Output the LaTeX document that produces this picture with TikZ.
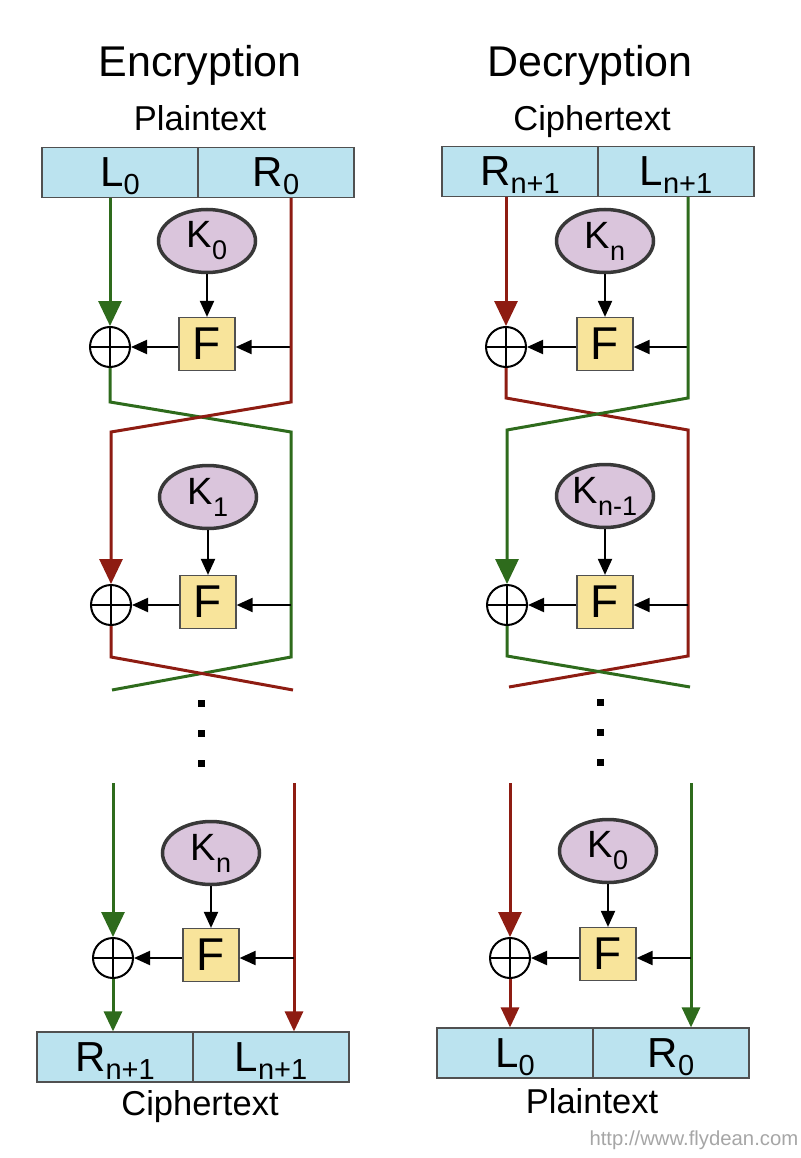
\documentclass[tikz,border=0pt]{standalone}
\usepackage{fontspec}
\setmainfont{Liberation Sans}
\usetikzlibrary{arrows.meta,shapes.geometric}
\definecolor{boxblue}{HTML}{BBE3EF}
\definecolor{keypurple}{HTML}{DAC5DC}
\definecolor{fyellow}{HTML}{F8E49B}
\definecolor{lgreen}{HTML}{2E6B1C}
\definecolor{lred}{HTML}{8E1C12}
\definecolor{edgegray}{HTML}{505050}
\newcommand{\blab}[2]{{\fontsize{42}{42}\selectfont #1\raisebox{-8pt}{\fontsize{29}{29}\selectfont #2}}}
\newcommand{\klab}[1]{{\fontsize{38}{38}\selectfont K\raisebox{-12pt}{\fontsize{27}{27}\selectfont #1}}}
\tikzset{
  halfbox/.style={draw=edgegray, line width=1.2pt, fill=boxblue, minimum width=156pt, minimum height=50pt, inner sep=0pt, text height=28pt, text depth=0pt},
  keynode/.style={ellipse, draw=black!78, line width=3.5pt, fill=keypurple, minimum width=97pt, minimum height=63pt, inner sep=0pt},
  fnode/.style={draw=edgegray, line width=1.2pt, fill=fyellow, minimum width=56pt, minimum height=53pt, inner sep=0pt, font=\fontsize{46}{46}\selectfont},
  xornode/.style={circle, draw, line width=2pt, minimum size=40pt, inner sep=0pt,
    path picture={\draw[line width=2pt] (path picture bounding box.north) -- (path picture bounding box.south)
      (path picture bounding box.west) -- (path picture bounding box.east);}},
  gline/.style={lgreen, line width=3pt},
  rline/.style={lred, line width=3pt},
  bigtip/.style={-{Triangle[width=23pt,length=25pt]}},
  boxtip/.style={-{Triangle[width=18pt,length=20pt]}},
  blk/.style={black, line width=2pt, -{Triangle[width=14pt,length=16pt]}},
  dotsq/.style={fill=black, minimum size=7pt, inner sep=0pt},
  title/.style={anchor=base, font=\fontsize{43}{43}\selectfont},
  sub/.style={anchor=base, font=\fontsize{34.5}{34.5}\selectfont},
}
\begin{document}
\begin{tikzpicture}[x=1pt,y=-1pt]
\useasboundingbox (0,0) rectangle (800,1158);

% ================= Encryption =================
\node[title] (etitle) at (200,77) {Encryption};
\node[sub] (eplain) at (200,131) {Plaintext};
\node[halfbox] (eL0) at (120,172.5) {\blab{L}{0}};
\node[halfbox] (eR0) at (276,172.5) {\blab{R}{0}};

\node[keynode] (kE1) at (207,241) {\klab{0}};
\node[fnode] (fE1) at (207,344) {F};
\node[xornode] (xE1) at (110,347) {};

\coordinate (ec1) at (110,402);
\coordinate (ec2) at (291,432);
\coordinate (ec3) at (291,657);
\coordinate (ec4) at (112,690);
\coordinate (er1) at (291,402);
\coordinate (er2) at (111,432);
\coordinate (er3) at (111,657);
\coordinate (er4) at (293,690);

\node[keynode] (kE2) at (208,497) {\klab{1}};
\node[fnode] (fE2) at (208,602) {F};
\node[xornode] (xE2) at (111,605) {};

% round 1
\draw[gline,bigtip] (xE1 |- eL0.south) -- (xE1.north);
\draw[blk] (kE1.south) -- (fE1.north);
\draw[blk] (er1 |- xE1) -- (fE1.east |- xE1);
\draw[blk] (fE1.west |- xE1) -- (xE1.east);
\draw[gline] (xE1.south) -- (ec1) -- (ec2) -- (ec3) -- (ec4);
\draw[rline,bigtip] (er1 |- eR0.south) -- (er1) -- (er2) -- (xE2.north);
% round 2
\draw[blk] (kE2.south) -- (fE2.north);
\draw[blk] (ec2 |- xE2) -- (fE2.east |- xE2);
\draw[blk] (fE2.west |- xE2) -- (xE2.east);
\draw[rline] (xE2.south) -- (er3) -- (er4);

\node[dotsq] (ed1) at (201,703) {};
\node[dotsq] (ed2) at (201,733) {};
\node[dotsq] (ed3) at (201,763) {};

% round n
\node[keynode] (kE3) at (211,853) {\klab{n}};
\node[fnode] (fE3) at (211,955) {F};
\node[xornode] (xE3) at (113,958) {};
\node[halfbox] (eRn) at (115,1057) {\blab{R}{n+1}};
\node[halfbox] (eLn) at (271,1057) {\blab{L}{n+1}};
\node[sub] (ecipher) at (200,1115) {Ciphertext};
\coordinate (eg5) at (113,783);
\coordinate (er5) at (294,783);
\draw[gline,bigtip] (eg5) -- (xE3.north);
\draw[gline,boxtip] (xE3.south) -- (xE3 |- eRn.north);
\draw[rline,boxtip] (er5) -- (er5 |- eLn.north);
\draw[blk] (kE3.south) -- (fE3.north);
\draw[blk] (er5 |- xE3) -- (fE3.east |- xE3);
\draw[blk] (fE3.west |- xE3) -- (xE3.east);

% ================= Decryption =================
\node[title] (dtitle) at (590,77) {Decryption};
\node[sub] (dcipher) at (592,131) {Ciphertext};
\node[halfbox] (dRn) at (520,171.5) {\blab{R}{n+1}};
\node[halfbox] (dLn) at (676,171.5) {\blab{L}{n+1}};

\node[keynode] (kD1) at (605,241) {\klab{n}};
\node[fnode] (fD1) at (605,344) {F};
\node[xornode] (xD1) at (506,347) {};

\coordinate (dc1) at (506,398);
\coordinate (dc2) at (688,430);
\coordinate (dc3) at (688,656);
\coordinate (dc4) at (509,687);
\coordinate (dg1) at (688,398);
\coordinate (dg2) at (507,430);
\coordinate (dg3) at (507,656);
\coordinate (dg4) at (690,687);

\node[keynode] (kD2) at (605,496) {\klab{n-1}};
\node[fnode] (fD2) at (605,602) {F};
\node[xornode] (xD2) at (507,605) {};

\draw[rline,bigtip] (xD1 |- dRn.south) -- (xD1.north);
\draw[blk] (kD1.south) -- (fD1.north);
\draw[blk] (dg1 |- xD1) -- (fD1.east |- xD1);
\draw[blk] (fD1.west |- xD1) -- (xD1.east);
\draw[rline] (xD1.south) -- (dc1) -- (dc2) -- (dc3) -- (dc4);
\draw[gline,bigtip] (dg1 |- dLn.south) -- (dg1) -- (dg2) -- (xD2.north);
\draw[blk] (kD2.south) -- (fD2.north);
\draw[blk] (dc2 |- xD2) -- (fD2.east |- xD2);
\draw[blk] (fD2.west |- xD2) -- (xD2.east);
\draw[gline] (xD2.south) -- (dg3) -- (dg4);

\node[dotsq] (dd1) at (600,702) {};
\node[dotsq] (dd2) at (600,732) {};
\node[dotsq] (dd3) at (600,762) {};

\node[keynode] (kD3) at (608,851) {\klab{0}};
\node[fnode] (fD3) at (608,954) {F};
\node[xornode] (xD3) at (510,958) {};
\node[halfbox] (dL0) at (515,1053) {\blab{L}{0}};
\node[halfbox] (dR0) at (671,1053) {\blab{R}{0}};
\node[sub] (dplain) at (592,1113) {Plaintext};
\coordinate (dr5) at (510,783);
\coordinate (dg5) at (691,783);
\draw[rline,bigtip] (dr5) -- (xD3.north);
\draw[rline,boxtip] (xD3.south) -- (xD3 |- dL0.north);
\draw[gline,boxtip] (dg5) -- (dg5 |- dR0.north);
\draw[blk] (kD3.south) -- (fD3.north);
\draw[blk] (dg5 |- xD3) -- (fD3.east |- xD3);
\draw[blk] (fD3.west |- xD3) -- (xD3.east);

\node[anchor=base west, text=black!35, font=\fontsize{20.3}{20.3}\selectfont] (wm) at (586,1145) {http://www.flydean.com};
\end{tikzpicture}
\end{document}
